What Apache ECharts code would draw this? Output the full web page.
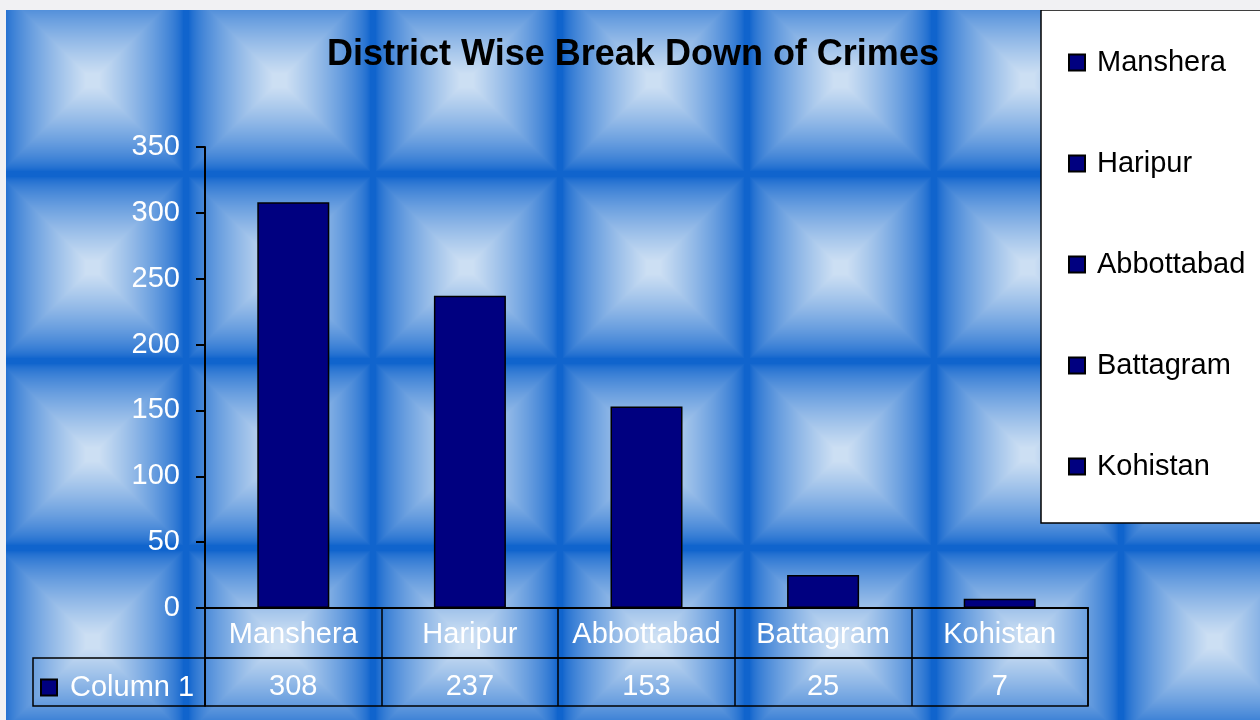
<!DOCTYPE html>
<html>
<head>
<meta charset="utf-8">
<script src="https://cdn.jsdelivr.net/npm/echarts@6/dist/echarts.min.js"></script>
<style>
  html, body { margin: 0; padding: 0; background: #f1f1f3; }
  #main { position: absolute; left: 6px; top: 10px; width: 1254px; height: 710px; }
</style>
</head>
<body>
<div id="main"></div>
<script>
// data
const districts = ['Manshera', 'Haripur', 'Abbottabad', 'Battagram', 'Kohistan'];
const crimes = [308, 237, 153, 25, 7];
const rowName = 'Column 1';
const yTicks = { min: 0, max: 350, step: 50 };

const FONT = 'Arial, "Liberation Sans", sans-serif';
const NAVY = '#000080';

// pillow tile for the background
function makeTile() {
    const T = 187;
    const c = document.createElement('canvas');
    c.width = T; c.height = T;
    const ctx = c.getContext('2d');
    const img = ctx.createImageData(T, T);
    const dark = [16, 100, 205], light = [204, 223, 243];
    for (let v = 0; v < T; v++) {
        for (let u = 0; u < T; u++) {
            const px = (u + 7) % T + 0.5, py = (v + 23) % T + 0.5;
            const d = Math.min(px, T - px, py, T - py) / (T / 2);
            let t = Math.max(0, Math.min(1, (d - 0.03) / 0.9));
            t = Math.pow(t, 0.72);
            const k = (v * T + u) * 4;
            for (let ch = 0; ch < 3; ch++) {
                img.data[k + ch] = Math.round(dark[ch] + (light[ch] - dark[ch]) * t);
            }
            img.data[k + 3] = 255;
        }
    }
    ctx.putImageData(img, 0, 0);
    return c;
}

const chart = echarts.init(document.getElementById('main'));

const barSeries = districts.map((name, i) => ({
    name: name,
    type: 'bar',
    xAxisIndex: 0,
    yAxisIndex: 0,
    barWidth: 72,
    barGap: '-100%',
    itemStyle: { color: NAVY, borderColor: '#000', borderWidth: 1.5 },
    data: crimes.map((v, j) => (j === i ? v : '-'))
}));

const option = {
    animation: false,
    textStyle: { fontFamily: FONT },
    graphic: [{
        type: 'rect',
        z: -10,
        silent: true,
        shape: { x: 0, y: 0, width: 1254, height: 710 },
        style: { fill: { image: makeTile(), repetition: 'repeat' } }
    }],
    title: {
        text: 'District Wise Break Down of Crimes',
        left: 'center',
        top: 27,
        padding: 0,
        textStyle: { fontFamily: FONT, fontSize: 36, fontWeight: 'bold', color: '#000' }
    },
    legend: [{
        data: districts,
        orient: 'vertical',
        left: 1035,
        top: 0,
        padding: [38, 60, 42, 27],
        itemGap: 72,
        itemWidth: 16,
        itemHeight: 16,
        icon: 'rect',
        backgroundColor: '#fff',
        borderColor: '#000',
        borderWidth: 1.5,
        textStyle: { fontFamily: FONT, fontSize: 29, color: '#000', padding: [0, 0, 0, 7] }
    }, {
        data: [rowName],
        left: 34,
        top: 663,
        padding: 0,
        itemWidth: 16,
        itemHeight: 16,
        icon: 'rect',
        textStyle: { fontFamily: FONT, fontSize: 29, color: '#fff', padding: [0, 0, 0, 8] }
    }],
    grid: [
        { left: 199, top: 137, width: 883, height: 461 },
        { left: 199, top: 598, width: 883, height: 50, show: true, borderColor: '#000', borderWidth: 1.5, backgroundColor: 'transparent' },
        { left: 199, top: 648, width: 883, height: 48, show: true, borderColor: '#000', borderWidth: 1.5, backgroundColor: 'transparent' },
        { left: 27, top: 648, width: 172, height: 48, show: true, borderColor: '#000', borderWidth: 1.5, backgroundColor: 'transparent' }
    ],
    xAxis: [{
        gridIndex: 0,
        type: 'category',
        data: districts,
        axisLine: { lineStyle: { color: '#000', width: 2 } },
        axisTick: { show: false },
        axisLabel: { show: false }
    }, {
        gridIndex: 1,
        type: 'category',
        data: districts,
        axisLine: { show: false },
        axisTick: { show: false },
        splitLine: { show: true, interval: 0, lineStyle: { color: '#000', width: 1.5 } },
        axisLabel: { interval: 0, margin: -23, verticalAlign: 'middle', color: '#fff', fontSize: 29, fontFamily: FONT }
    }, {
        gridIndex: 2,
        type: 'category',
        data: districts,
        axisLine: { show: false },
        axisTick: { show: false },
        splitLine: { show: true, interval: 0, lineStyle: { color: '#000', width: 1.5 } },
        axisLabel: {
            interval: 0, margin: -19, verticalAlign: 'middle', color: '#fff', fontSize: 29, fontFamily: FONT,
            formatter: (v, idx) => String(crimes[idx])
        }
    }, {
        gridIndex: 3, type: 'category', show: false, data: [rowName]
    }],
    yAxis: [{
        gridIndex: 0,
        type: 'value',
        min: yTicks.min,
        max: yTicks.max,
        interval: yTicks.step,
        axisLine: { show: true, lineStyle: { color: '#000', width: 2 } },
        axisTick: { show: true, length: 9, lineStyle: { color: '#000', width: 2 } },
        splitLine: { show: false },
        axisLabel: { color: '#fff', fontSize: 29, fontFamily: FONT, margin: 25 }
    },
    { gridIndex: 1, type: 'value', show: false },
    { gridIndex: 2, type: 'value', show: false },
    { gridIndex: 3, type: 'value', show: false }],
    series: barSeries.concat([{
        name: rowName,
        type: 'bar',
        xAxisIndex: 0,
        yAxisIndex: 0,
        barWidth: 72,
        barGap: '-100%',
        itemStyle: { color: NAVY, borderColor: '#000', borderWidth: 1.5 },
        data: []
    }])
};

chart.setOption(option);
</script>
</body>
</html>
